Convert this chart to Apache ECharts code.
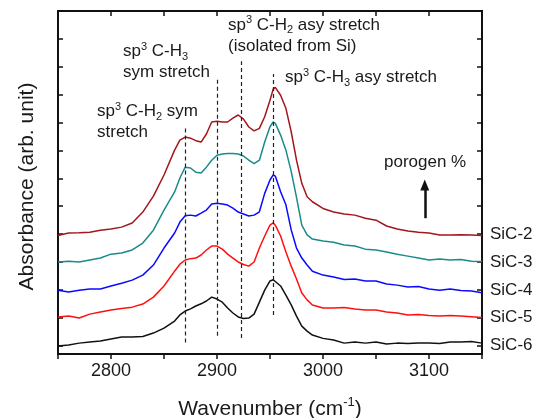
<!DOCTYPE html>
<html>
<head>
<meta charset="utf-8">
<script src="https://cdn.jsdelivr.net/npm/echarts@6/dist/echarts.min.js"></script>
<style>
  html, body { margin: 0; padding: 0; background: #fff; }
  #chart { width: 533px; height: 418px; }
</style>
</head>
<body>
<div id="chart"></div>
<script>
// wavenumber grid (cm-1)
const wavenumbers = [2750, 2760, 2770, 2780, 2790, 2800, 2810, 2820, 2830, 2840, 2850,
  2860, 2865, 2870, 2875, 2880, 2885, 2890, 2895, 2900, 2905, 2910, 2915, 2920, 2925,
  2930, 2935, 2940, 2945, 2950, 2953, 2955, 2960, 2965, 2970, 2975, 2980, 2985, 2990,
  3000, 3010, 3020, 3030, 3040, 3050, 3060, 3070, 3080, 3090, 3100, 3110, 3120, 3130, 3140, 3150];

// absorbance, offset curves (arb. unit)
const sic2 = [4.25, 4.34, 4.35, 4.37, 4.44, 4.48, 4.55, 4.70, 5.09, 5.66, 6.42,
  7.31, 7.67, 7.78, 7.74, 7.65, 7.60, 7.89, 8.32, 8.35, 8.32, 8.32, 8.46, 8.57, 8.42,
  8.14, 8.00, 8.09, 8.51, 9.10, 9.50, 9.56, 9.28, 8.81, 7.97, 6.95, 6.12, 5.64, 5.46,
  5.22, 5.09, 5.02, 4.98, 4.87, 4.80, 4.59, 4.48, 4.41, 4.37, 4.34, 4.27, 4.27, 4.28, 4.27, 4.25];
const sic3 = [3.30, 3.33, 3.30, 3.37, 3.44, 3.58, 3.62, 3.73, 3.98, 4.44, 5.16,
  5.81, 6.31, 6.70, 6.67, 6.52, 6.49, 6.70, 6.95, 7.13, 7.17, 7.19, 7.19, 7.17, 7.10,
  6.95, 6.83, 6.95, 7.60, 8.15, 8.32, 8.27, 7.85, 7.31, 6.55, 5.62, 4.62, 4.27, 4.12,
  4.05, 4.01, 3.91, 3.87, 3.76, 3.73, 3.66, 3.58, 3.51, 3.44, 3.37, 3.41, 3.37, 3.39, 3.33, 3.32];
const sic4 = [2.29, 2.22, 2.29, 2.33, 2.33, 2.44, 2.54, 2.65, 2.83, 3.19, 3.80,
  4.34, 4.73, 4.96, 4.98, 4.95, 5.05, 5.16, 5.38, 5.41, 5.38, 5.34, 5.23, 5.09, 5.02,
  4.95, 4.98, 5.10, 5.76, 6.24, 6.42, 6.38, 5.82, 5.35, 4.45, 3.80, 3.44, 3.19, 2.97,
  2.83, 2.76, 2.67, 2.69, 2.62, 2.62, 2.51, 2.47, 2.40, 2.42, 2.33, 2.29, 2.33, 2.28, 2.26, 2.20];
const sic5 = [1.33, 1.36, 1.29, 1.43, 1.51, 1.58, 1.63, 1.68, 1.79, 2.04, 2.44,
  2.97, 3.22, 3.37, 3.42, 3.44, 3.55, 3.73, 3.87, 3.87, 3.76, 3.58, 3.44, 3.30, 3.21,
  3.15, 3.30, 3.80, 4.23, 4.62, 4.70, 4.62, 4.23, 3.66, 3.15, 2.69, 2.19, 1.94, 1.76,
  1.65, 1.65, 1.67, 1.61, 1.58, 1.58, 1.51, 1.47, 1.40, 1.42, 1.38, 1.36, 1.38, 1.36, 1.34, 1.31];
const sic6 = [0.29, 0.32, 0.39, 0.43, 0.47, 0.54, 0.61, 0.61, 0.63, 0.75, 0.93,
  1.18, 1.40, 1.54, 1.62, 1.72, 1.80, 1.90, 2.04, 1.97, 1.86, 1.65, 1.47, 1.33, 1.27,
  1.29, 1.43, 1.86, 2.29, 2.62, 2.66, 2.60, 2.44, 2.11, 1.76, 1.36, 1.00, 0.82, 0.68,
  0.56, 0.50, 0.39, 0.43, 0.39, 0.43, 0.36, 0.39, 0.38, 0.39, 0.39, 0.38, 0.43, 0.43, 0.45, 0.39];

const sampleNames = ['SiC-2', 'SiC-3', 'SiC-4', 'SiC-5', 'SiC-6'];
const sampleColors = ['#a3161d', '#198b8b', '#0a0aff', '#ff1010', '#111111'];
// right-axis label level for each sample
const sampleLabelAt = [4.3, 3.3, 2.3, 1.3, 0.3];

// peak assignment lines
const peakX = [2870, 2900, 2923, 2953];
const peakLow = [0.41, 0.65, 0.57, 1.40];
const peakHigh = [8.10, 9.90, 10.50, 10.04];

// porogen arrow
const arrowX = 3096;
const arrowFrom = 4.87;
const arrowTo = 6.06;

// ticks
const xLabels = [2800, 2900, 3000, 3100];
const yTicks = [0.3, 1.3, 2.3, 3.3, 4.3, 5.3, 6.3, 7.3, 8.3, 9.3, 10.3, 11.3, 12.3];

const F = '"Liberation Sans", Arial, Helvetica, sans-serif';
const TXT = '#1a1a1a';

const rich = {
  n: { fontSize: 17, lineHeight: 21, fontFamily: F, color: TXT },
  sup: { fontSize: 11, lineHeight: 11, verticalAlign: 'top', fontFamily: F, color: TXT },
  sub: { fontSize: 11, lineHeight: 11, verticalAlign: 'bottom', fontFamily: F, color: TXT }
};

function note(x, y, text) {
  return { type: 'text', x: x, y: y, silent: true, style: { text: text, rich: rich, fill: TXT, font: '17px ' + F } };
}

const allSeries = [sic2, sic3, sic4, sic5, sic6];

const series = sampleNames.map((name, i) => ({
  name: name,
  type: 'line',
  showSymbol: false,
  data: wavenumbers.map((w, j) => [w, allSeries[i][j]]),
  lineStyle: { color: sampleColors[i], width: 1.5 },
  itemStyle: { color: sampleColors[i] },
  z: 3
}));

series[4].markLine = {
  silent: true,
  symbol: ['none', 'none'],
  label: { show: false },
  lineStyle: { type: [4, 3], color: '#222', width: 1.2 },
  data: peakX.map((x, i) => [{ coord: [x, peakLow[i]] }, { coord: [x, peakHigh[i]] }])
};
series[0].markLine = {
  silent: true,
  label: { show: false },
  lineStyle: { type: 'solid', color: '#111', width: 2.5 },
  data: [[
    { coord: [arrowX, arrowFrom], symbol: 'none' },
    { coord: [arrowX, arrowTo], symbol: 'triangle', symbolSize: [9, 11] }
  ]]
};

const axisColor = '#111';
const line = { onZero: false, lineStyle: { color: axisColor, width: 1.8 } };
const tickStyle = { color: axisColor, width: 1.5 };

const chart = echarts.init(document.getElementById('chart'), null, { renderer: 'canvas' });
chart.setOption({
  animation: false,
  grid: {
    left: 58, right: 51, top: 11, bottom: 64,
    outerBoundsMode: 'none', containLabel: false,
    show: true, borderColor: axisColor, borderWidth: 1.8
  },
  xAxis: [{
    type: 'value', min: 2750, max: 3150, interval: 50, position: 'bottom',
    axisLine: line,
    axisTick: { inside: false, length: 5, lineStyle: tickStyle },
    axisLabel: { customValues: xLabels, formatter: v => String(v), fontSize: 18, color: TXT, margin: 8, fontFamily: F },
    splitLine: { show: false },
    name: '{n|Wavenumber (cm}{sup|-1}{n|)}',
    nameLocation: 'middle', nameGap: 42,
    nameTextStyle: {
      rich: {
        n: { fontSize: 21, lineHeight: 26, fontFamily: F, color: TXT },
        sup: { fontSize: 13, lineHeight: 13, verticalAlign: 'top', fontFamily: F, color: TXT }
      }
    }
  }, {
    type: 'value', min: 2750, max: 3150, interval: 50, position: 'top',
    axisLine: line,
    axisTick: { inside: true, length: 5, lineStyle: tickStyle },
    axisLabel: { show: false },
    splitLine: { show: false }
  }],
  yAxis: [{
    type: 'value', min: 0, max: 12.3, position: 'left',
    axisLine: Object.assign({ show: true }, line),
    axisTick: { inside: true, length: 5, customValues: yTicks, lineStyle: tickStyle },
    axisLabel: { show: false },
    splitLine: { show: false },
    name: 'Absorbance (arb. unit)',
    nameLocation: 'middle', nameGap: 20,
    nameTextStyle: { fontSize: 21, fontFamily: F, color: TXT, padding: [0, 8, 0, 0] }
  }, {
    type: 'value', min: 0, max: 12.3, position: 'right',
    axisLine: Object.assign({ show: true }, line),
    axisTick: { show: true, inside: true, length: 5, customValues: yTicks, lineStyle: tickStyle },
    axisLabel: {
      show: true, inside: false, margin: 8, customValues: sampleLabelAt,
      formatter: v => sampleNames[sampleLabelAt.indexOf(v)] || '',
      fontSize: 17, color: TXT, fontFamily: F
    },
    splitLine: { show: false }
  }],
  graphic: [
    note(228, 14.5, '{n|sp}{sup|3}{n| C-H}{sub|2}{n| asy stretch}\n{n|(isolated from Si)}'),
    note(123, 41, '{n|sp}{sup|3}{n| C-H}{sub|3}\n{n|sym stretch}'),
    note(97, 101, '{n|sp}{sup|3}{n| C-H}{sub|2}{n| sym}\n{n|stretch}'),
    note(285, 67, '{n|sp}{sup|3}{n| C-H}{sub|3}{n| asy stretch}'),
    note(384, 152, '{n|porogen %}')
  ],
  series: series
});
</script>
</body>
</html>
